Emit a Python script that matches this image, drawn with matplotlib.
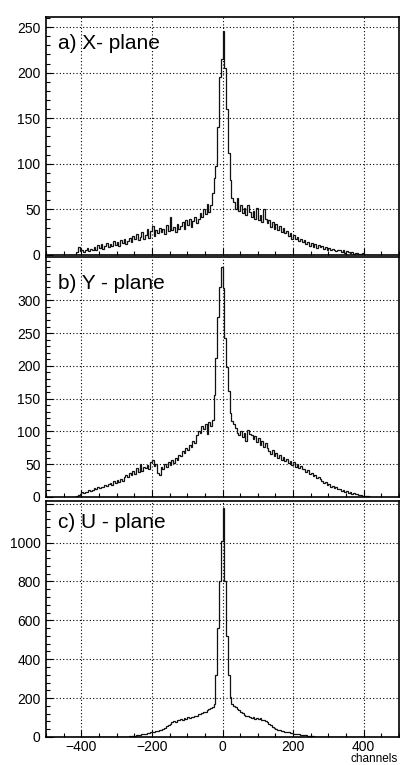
"""Residual distributions for the X, Y and U wire planes (three stacked histograms)."""
import matplotlib
matplotlib.use("Agg")
import matplotlib.pyplot as plt
import numpy as np
from matplotlib.ticker import MultipleLocator, NullFormatter

plt.rcParams["font.family"] = ["Liberation Sans", "DejaVu Sans"]

# bin edges in channels (5-channel bins)
bin_edges = np.arange(-420, 421, 5)

x_counts = [
    0, 3, 9, 4, 6, 3, 5, 8, 4, 7,
    6, 9, 5, 11, 8, 12, 7, 10, 13, 9,
    12, 10, 15, 11, 14, 10, 16, 13, 17, 12,
    15, 19, 14, 21, 17, 23, 16, 20, 25, 18,
    22, 28, 19, 26, 32, 21, 27, 24, 30, 25,
    28, 23, 33, 26, 42, 27, 31, 25, 34, 29,
    32, 36, 29, 38, 33, 40, 31, 37, 42, 35,
    40, 46, 42, 50, 45, 56, 47, 55, 68, 84,
    98, 140, 195, 215, 246, 205, 160, 112, 82, 62,
    58, 50, 62, 48, 55, 46, 52, 44, 55, 47,
    42, 48, 40, 52, 38, 44, 36, 50, 39, 35,
    38, 31, 36, 29, 34, 27, 32, 25, 30, 24,
    26, 21, 24, 18, 22, 17, 20, 15, 18, 14,
    16, 12, 14, 10, 13, 9, 12, 8, 11, 9,
    10, 7, 9, 6, 8, 5, 7, 6, 4, 5,
    6, 3, 5, 2, 4, 3, 2, 3, 1, 2,
    2, 1, 1, 2, 0, 0, 0, 0,
]

y_counts = [
    0, 2, 3, 5, 7, 6, 8, 7, 10, 9,
    11, 13, 12, 15, 14, 16, 15, 18, 17, 20,
    22, 19, 24, 21, 26, 23, 28, 25, 30, 33,
    31, 36, 34, 39, 35, 44, 38, 51, 40, 46,
    44, 49, 43, 53, 56, 47, 50, 37, 34, 45,
    42, 50, 46, 53, 49, 57, 52, 60, 56, 64,
    62, 70, 67, 74, 71, 79, 76, 86, 82, 94,
    101, 97, 108, 104, 112, 96, 115, 108, 118, 155,
    212, 275, 320, 350, 318, 242, 198, 162, 128, 116,
    112, 105, 98, 94, 100, 92, 97, 85, 102, 96,
    95, 88, 93, 84, 90, 80, 86, 77, 82, 74,
    70, 66, 72, 63, 67, 60, 64, 57, 61, 55,
    58, 52, 55, 49, 53, 46, 50, 44, 47, 42,
    43, 38, 41, 35, 37, 32, 34, 29, 30, 27,
    25, 22, 23, 19, 20, 16, 17, 14, 15, 12,
    12, 9, 10, 8, 9, 6, 7, 5, 6, 4,
    4, 3, 3, 2, 2, 1, 1, 0,
]

u_counts = [
    0, 0, 0, 0, 0, 0, 0, 0, 0, 0,
    0, 0, 0, 0, 0, 0, 0, 0, 0, 0,
    0, 0, 0, 0, 0, 0, 0, 1, 1, 2,
    2, 3, 5, 6, 7, 9, 11, 12, 14, 16,
    18, 20, 22, 25, 24, 28, 30, 33, 36, 38,
    42, 46, 55, 62, 68, 75, 83, 78, 90, 86,
    92, 88, 97, 94, 102, 98, 105, 101, 110, 108,
    116, 120, 124, 130, 128, 137, 142, 148, 156, 172,
    320, 560, 800, 1010, 1180, 800, 520, 320, 205, 168,
    162, 152, 146, 138, 130, 122, 115, 108, 110, 104,
    98, 102, 95, 99, 92, 96, 88, 90, 82, 76,
    68, 60, 52, 46, 42, 38, 35, 32, 30, 27,
    26, 24, 22, 20, 18, 16, 15, 13, 12, 11,
    10, 8, 7, 5, 4, 3, 2, 1, 1, 0,
    0, 0, 0, 0, 0, 0, 0, 0, 0, 0,
    0, 0, 0, 0, 0, 0, 0, 0, 0, 0,
    0, 0, 0, 0, 0, 0, 0, 0,
]

panel_labels = ["a) X- plane", "b) Y - plane", "c) U - plane"]
x_ticks = [-400, -200, 0, 200, 400]

W, H = 400, 765


def fig_rect(top_px, bottom_px, left_px=46, right_px=399):
    """Axes rectangle in figure fractions from pixel edges."""
    return [left_px / W, 1 - bottom_px / H, (right_px - left_px) / W, (bottom_px - top_px) / H]


def style_axes(ax, ymax, yminor, yticks, show_x=False):
    """ROOT-like frame: inward ticks, dotted grid at major ticks."""
    ax.set_xlim(-500, 500)
    ax.set_ylim(0, ymax)
    ax.set_xticks(x_ticks)
    ax.xaxis.set_minor_locator(MultipleLocator(50))
    ax.set_yticks(yticks)
    ax.yaxis.set_minor_locator(MultipleLocator(yminor))
    ax.tick_params(which="both", direction="in", top=False, right=False,
                   labelsize=10, width=0.8)
    ax.tick_params(which="major", length=5, pad=4)
    ax.tick_params(which="minor", length=2.8)
    ax.tick_params(axis="x", which="major", pad=2.5)
    if not show_x:
        ax.xaxis.set_major_formatter(NullFormatter())
    ax.grid(True, which="major", color="black", linestyle=(0, (1, 2)), linewidth=0.8)
    ax.set_axisbelow(True)
    for sp in ax.spines.values():
        sp.set_linewidth(1.2)


fig = plt.figure(figsize=(W / 100, H / 100), dpi=100)

ax_a = fig.add_axes(fig_rect(17, 255))
ax_b = fig.add_axes(fig_rect(257, 497))
ax_c = fig.add_axes(fig_rect(501, 737))

ax_a.stairs(x_counts, bin_edges, color="#111111", linewidth=0.9)
ax_b.stairs(y_counts, bin_edges, color="#111111", linewidth=0.9)
ax_c.stairs(u_counts, bin_edges, color="#111111", linewidth=0.9)

style_axes(ax_a, 261, 10, [0, 50, 100, 150, 200, 250])
style_axes(ax_b, 366, 10, [0, 50, 100, 150, 200, 250, 300])
style_axes(ax_c, 1214, 40, [0, 200, 400, 600, 800, 1000, 1200], show_x=True)
ax_c.set_yticklabels(["0", "200", "400", "600", "800", "1000", ""])

# panel titles, baseline positions in pixels
for label, base_px in zip(panel_labels, [49.3, 289.3, 527.7]):
    fig.text(58 / W, 1 - base_px / H, label, fontsize=15, va="baseline", ha="left")

fig.text(398 / W, 0.0, "channels", fontsize=8.5, ha="right", va="bottom")

fig.savefig("out.png", dpi=100)
